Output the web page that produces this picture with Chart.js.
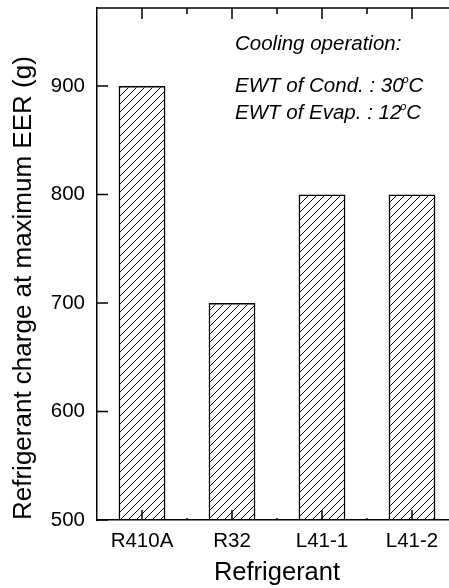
<!DOCTYPE html>
<html>
<head>
<meta charset="utf-8">
<script src="https://cdn.jsdelivr.net/npm/chart.js@4.4.1/dist/chart.umd.min.js"></script>
<style>
html, body { margin: 0; padding: 0; background: #fff; overflow: hidden; }
#wrap { width: 457px; height: 588px; }
</style>
</head>
<body>
<div id="wrap"><canvas id="chart" width="457" height="588"></canvas></div>
<script>
var refrigerants = ["R410A", "R32", "L41-1", "L41-2"];
var chargeAtMaxEER = [900, 700, 800, 800];
var chargeTicks = [500, 600, 700, 800, 900];
var noteTitle = "Cooling operation:";
var noteConditions = [["EWT of Cond. : ", "30"], ["EWT of Evap. : ", "12"]];

var FONT = "'Liberation Sans', Arial, sans-serif";

// diagonal "/" hatch for the bars
function hatch() {
    var c = document.createElement("canvas");
    c.width = 8; c.height = 8;
    var g = c.getContext("2d");
    g.strokeStyle = "#000";
    g.lineWidth = 1;
    g.beginPath();
    g.moveTo(0, 8); g.lineTo(8, 0);
    g.moveTo(-1, 1); g.lineTo(1, -1);
    g.moveTo(7, 9); g.lineTo(9, 7);
    g.stroke();
    return g.createPattern(c, "repeat");
}

// inward tick marks, top frame line and the operating-condition note
var frameTicks = {
    id: "frameTicks",
    afterDraw: function(chart) {
        var ctx = chart.ctx, a = chart.chartArea;
        var x = chart.scales.x, y = chart.scales.y;
        var step = x.getPixelForValue(1) - x.getPixelForValue(0);
        ctx.save();
        ctx.strokeStyle = "#000";
        ctx.lineWidth = 1.5;
        ctx.beginPath();
        ctx.moveTo(a.left, a.top); ctx.lineTo(a.right, a.top);
        chargeTicks.forEach(function(v) {
            var py = y.getPixelForValue(v);
            ctx.moveTo(a.left, py); ctx.lineTo(a.left + 11, py);
        });
        refrigerants.forEach(function(r, i) {
            var px = x.getPixelForValue(i);
            ctx.moveTo(px, a.bottom); ctx.lineTo(px, a.bottom - 10);
            ctx.moveTo(px, a.top); ctx.lineTo(px, a.top + 11);
            ctx.moveTo(px + step / 2, a.top); ctx.lineTo(px + step / 2, a.top + 6);
            ctx.moveTo(px + step / 2, a.bottom); ctx.lineTo(px + step / 2, a.bottom - 2);
        });
        ctx.stroke();

        ctx.fillStyle = "#000";
        ctx.textBaseline = "alphabetic";
        ctx.textAlign = "left";
        var tx = a.left + 138;
        ctx.font = "italic 20.5px " + FONT;
        ctx.fillText(noteTitle, tx, 50);
        noteConditions.forEach(function(c, i) {
            var by = 92 + i * 27;
            ctx.font = "italic 20.5px " + FONT;
            var s = c[0] + c[1];
            ctx.fillText(s, tx, by);
            var w = ctx.measureText(s).width;
            ctx.fillText("C", tx + w + 5, by);
            ctx.font = "italic 11px " + FONT;
            ctx.fillText("o", tx + w - 1, by - 9);
        });
        ctx.restore();
    }
};

new Chart(document.getElementById("chart").getContext("2d"), {
    type: "bar",
    data: {
        labels: refrigerants,
        datasets: [{
            data: chargeAtMaxEER,
            backgroundColor: hatch(),
            borderColor: "#000",
            borderWidth: 1.5,
            categoryPercentage: 1,
            barPercentage: 0.52
        }]
    },
    options: {
        responsive: false,
        animation: false,
        layout: { padding: { top: 8, left: 0, right: 0, bottom: 0 } },
        plugins: { legend: { display: false }, tooltip: { enabled: false } },
        scales: {
            x: {
                grid: { drawOnChartArea: false, drawTicks: false },
                border: { color: "#000", width: 1.5 },
                ticks: { color: "#000", padding: 9, font: { family: FONT, size: 20.5 } },
                title: {
                    display: true, text: "Refrigerant", color: "#000",
                    padding: { top: 0, bottom: 0 },
                    font: { family: FONT, size: 25.5 }
                },
                afterFit: function(s) {
                    s.height = 68;
                    s.paddingLeft = 0; s.paddingRight = 0;
                }
            },
            y: {
                min: 500,
                max: 972,
                grid: { drawOnChartArea: false, drawTicks: false },
                border: { color: "#000", width: 1.5 },
                ticks: {
                    stepSize: 100, includeBounds: false, color: "#000", padding: 12,
                    font: { family: FONT, size: 20.5 }
                },
                title: {
                    display: true, text: "Refrigerant charge at maximum EER (g)", color: "#000",
                    align: "start",
                    padding: { top: 8, bottom: 0 },
                    font: { family: FONT, size: 26 }
                },
                afterFit: function(s) {
                    s.width = 97;
                    s.paddingTop = 0; s.paddingBottom = 0;
                }
            }
        }
    },
    plugins: [frameTicks]
});
</script>
</body>
</html>
